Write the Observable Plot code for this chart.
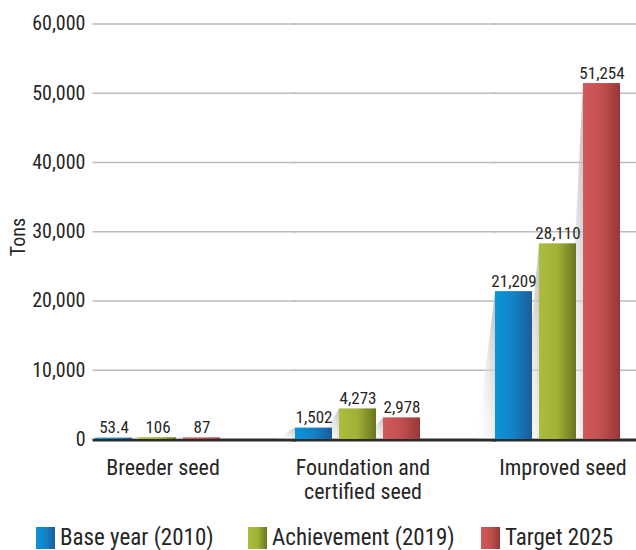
<!DOCTYPE html>
<html>
<head>
<meta charset="utf-8">
<script src="https://cdn.jsdelivr.net/npm/d3@7"></script>
<script src="https://cdn.jsdelivr.net/npm/@observablehq/plot@0.6"></script>
<style>
  html, body { margin: 0; padding: 0; background: #fff; overflow: hidden; }
  #wrap {
    position: relative; width: 636px; height: 550px;
    font-family: "Roboto Condensed", "Liberation Sans Narrow", "Arial Narrow", "DejaVu Sans Condensed", sans-serif;
    font-stretch: condensed; color: #262626;
  }
  #chart svg { display: block; }
  #ylabel {
    position: absolute; left: 17.5px; top: 236.5px; font-size: 20px; white-space: nowrap;
    transform: translate(-50%, -50%) rotate(-90deg);
  }
  .item { position: absolute; top: 527px; display: flex; align-items: flex-start; font-size: 23px; line-height: 22px; white-space: nowrap; }
  .swatch { width: 19px; height: 22px; margin-right: 5px; }
</style>
</head>
<body>
<div id="wrap">
  <div id="chart"></div>
  <div id="ylabel">Tons</div>
  <div id="legend"></div>
</div>
<script>
// Seed production by class, in tons
const groups = ["Breeder seed", "Foundation and\ncertified seed", "Improved seed"];
const series = ["Base year (2010)", "Achievement (2019)", "Target 2025"];
const baseYear = [53.4, 1502, 21209];
const achievement = [106, 4273, 28110];
const target = [87, 2978, 51254];
const yTicks = [0, 10000, 20000, 30000, 40000, 50000, 60000];

// Gradient fills per series: light on the left, darker on the right
const gradients = {
  "Base year (2010)": ["#0994d9", "#1282c6", "#1f5b9b"],
  "Achievement (2019)": ["#acbc3d", "#a1b136", "#68751f"],
  "Target 2025": ["#d15a5a", "#c24f4f", "#963838"]
};
const gradId = s => "grad-" + series.indexOf(s);

const values = [baseYear, achievement, target];
const rows = groups.flatMap((g, i) => series.map((s, j) => ({group: g, series: s, value: values[j][i]})));

const FONT = getComputedStyle(document.getElementById("wrap")).fontFamily;
const fmt = d3.format(",");

const chart = Plot.plot({
  width: 636,
  height: 510,
  marginTop: 23.5,
  marginBottom: 71,
  marginLeft: 92,
  marginRight: 0,
  facet: {marginTop: 0, marginBottom: 0, marginLeft: 0, marginRight: 0},
  style: {fontFamily: FONT, fontStretch: "condensed", color: "#262626", background: "transparent"},
  fx: {domain: groups, paddingInner: 0.373, paddingOuter: 0.04, align: 0.157},
  x: {domain: series, paddingInner: 0.169, paddingOuter: 0, axis: null},
  y: {domain: [0, 60000], axis: null},
  color: {domain: series, range: series.map(s => `url(#${gradId(s)})`)},
  marks: [
    // horizontal gridlines spanning the gaps between groups
    Plot.ruleY(yTicks.slice(1), {stroke: "#bdbdbd", strokeWidth: 1.5, insetLeft: -2.5, insetRight: -76}),
    Plot.axisY({ticks: yTicks, tickFormat: d => fmt(d), tickSize: 0, tickPadding: 10, fontSize: 20, label: null}),
    // dark baseline
    Plot.ruleY([0], {stroke: "#2b2b2b", strokeWidth: 3, dy: 0.5, insetLeft: -2.5, insetRight: -76}),
    Plot.barY(rows, {fx: "group", x: "series", y: "value", fill: "series", insetTop: -1}),
    Plot.text(rows, {
      fx: "group", x: "series", y: "value", text: d => fmt(d.value),
      lineAnchor: "bottom", dy: -6, fontSize: 17, fill: "#262626"
    }),
    Plot.axisFx({anchor: "bottom", tickSize: 0, tickPadding: 18, dx: 5, fontSize: 22, lineHeight: 1.1, label: null})
  ]
});

// Gradient definitions for bars and the shaded wedges behind them
const svg = d3.select(chart);
const defs = svg.insert("defs", ":first-child");
for (const s of series) {
  const [c0, c1, c2] = gradients[s];
  const lg = defs.append("linearGradient").attr("id", gradId(s)).attr("x1", 0).attr("x2", 1).attr("y1", 0).attr("y2", 0);
  lg.append("stop").attr("offset", "0%").attr("stop-color", c0);
  lg.append("stop").attr("offset", "50%").attr("stop-color", c1);
  lg.append("stop").attr("offset", "100%").attr("stop-color", c2);
}
const wg = defs.append("linearGradient").attr("id", "wedge").attr("x1", 1).attr("y1", 0).attr("x2", 0).attr("y2", 1);
wg.append("stop").attr("offset", "0%").attr("stop-color", "#b8b8b8").attr("stop-opacity", 0.9);
wg.append("stop").attr("offset", "100%").attr("stop-color", "#ffffff").attr("stop-opacity", 0.1);

// Perspective wedge on the left side of each bar, drawn underneath the bars
svg.selectAll("g[aria-label='bar']").each(function () {
  d3.select(this).selectAll("rect").nodes().forEach(r => {
    const x = +r.getAttribute("x"), y = +r.getAttribute("y"), h = +r.getAttribute("height");
    const parent = r.parentNode;
    const poly = document.createElementNS("http://www.w3.org/2000/svg", "polygon");
    poly.setAttribute("points", `${x},${y} ${x},${y + h} ${x - 18},${y + h}`);
    poly.setAttribute("fill", "url(#wedge)");
    parent.insertBefore(poly, parent.firstChild);
  });
});

document.getElementById("chart").appendChild(chart);

// Legend
const legendLeft = [36, 248, 481];
const legend = d3.select("#legend");
series.forEach((s, i) => {
  const [c0, c1, c2] = gradients[s];
  const item = legend.append("div").attr("class", "item").style("left", legendLeft[i] + "px");
  item.append("div").attr("class", "swatch").style("background", `linear-gradient(to right, ${c0}, ${c1} 50%, ${c2})`);
  item.append("span").text(s);
});
</script>
</body>
</html>
